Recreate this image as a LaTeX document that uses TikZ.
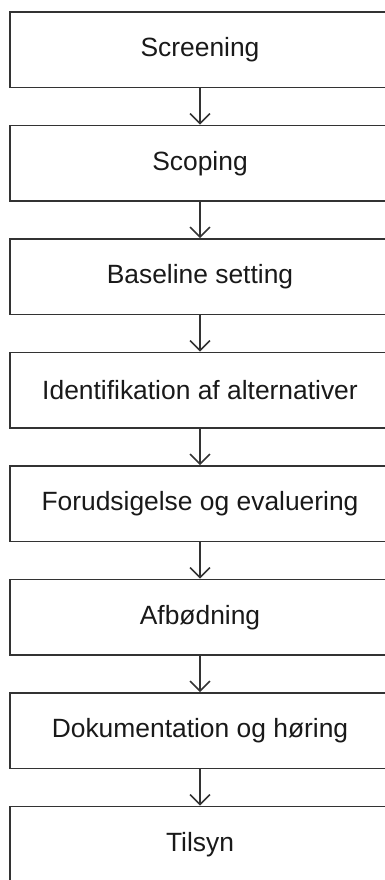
\documentclass[tikz,border=0pt]{standalone}
\usepackage{fontspec}
\setmainfont{Liberation Sans}
\usetikzlibrary{arrows.meta}
\begin{document}
\begin{tikzpicture}[x=1pt,y=-1pt,
  stepbox/.style={draw=black!80, line width=1.6pt, minimum width=380pt, minimum height=75.5pt,
    inner sep=0pt, font=\fontsize{26.4}{30}\selectfont, text=black!90},
  conn/.style={draw=black!80, line width=1.6pt, -{Straight Barb[length=10pt,width=20pt,line width=1.6pt]}}]
\useasboundingbox (0,0) rectangle (385,880);
\clip (0,0) rectangle (385,880);
\node[stepbox] (b1) at (200,49.75) {Screening};
\node[stepbox] (b2) at (200,163.25) {Scoping};
\node[stepbox] (b3) at (200,276.75) {Baseline setting};
\node[stepbox] (b4) at (200,390.25) {Identifikation af alternativer};
\node[stepbox] (b5) at (200,503.75) {Forudsigelse og evaluering};
\node[stepbox] (b6) at (200,617.25) {Afbødning};
\node[stepbox] (b7) at (200,730.75) {Dokumentation og høring};
\node[stepbox] (b8) at (200,844.25) {Tilsyn};
\foreach \a/\b in {b1/b2,b2/b3,b3/b4,b4/b5,b5/b6,b6/b7,b7/b8}
  \draw[conn] (\a.south) -- (\b.north);
\end{tikzpicture}
\end{document}
